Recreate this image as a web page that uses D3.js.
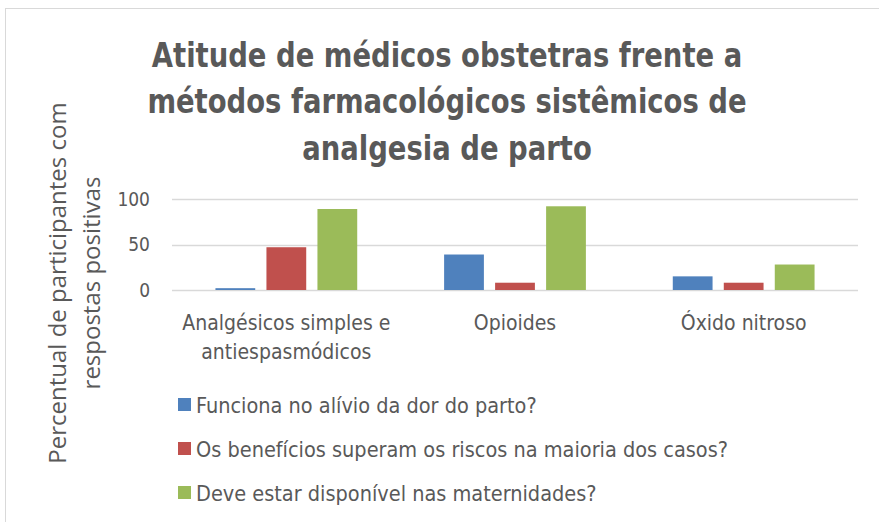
<!DOCTYPE html>
<html>
<head>
<meta charset="utf-8">
<script src="https://cdn.jsdelivr.net/npm/d3@7"></script>
<style>
  body { margin: 0; background: #fff; }
  svg { display: block; }
  .narrow { font-family: "Liberation Sans Narrow", "DejaVu Sans Condensed", "Roboto Condensed", sans-serif; }
</style>
</head>
<body>
<div id="chart"></div>
<script>
// data
const categories = [["Analgésicos simples e", "antiespasmódicos"], ["Opioides"], ["Óxido nitroso"]];
const seriesNames = [
    "Funciona no alívio da dor do parto?",
    "Os benefícios superam os riscos na maioria dos casos?",
    "Deve estar disponível nas maternidades?"
];
const seriesColors = ["#4f81bd", "#c0504d", "#9bbb59"];
const funciona = [2, 39, 15];
const beneficios = [47, 8, 8];
const disponivel = [89, 92, 28];
const yTicks = [0, 50, 100];
const titleLines = ["Atitude de médicos obstetras frente a", "métodos farmacológicos sistêmicos de", "analgesia de parto"];
const yTitleLines = ["Percentual de participantes com", "respostas positivas"];

const width = 879, height = 522;
const margin = {top: 199, right: 21, bottom: 232, left: 172};

const svg = d3.select("#chart").append("svg")
    .attr("width", width)
    .attr("height", height);

// chart frame
svg.append("rect")
    .attr("x", 5.5).attr("y", 8.5)
    .attr("width", 900).attr("height", 600)
    .attr("fill", "none")
    .attr("stroke", "#d9d9d9");

// title (squeezed a bit to look like the narrow original font)
svg.append("g")
    .attr("transform", "translate(447,0) scale(0.925,1)")
    .append("text")
    .attr("class", "narrow")
    .attr("text-anchor", "middle")
    .attr("font-size", 33)
    .attr("font-weight", "bold")
    .attr("fill", "#595959")
    .selectAll("tspan")
    .data(titleLines)
    .enter()
    .append("tspan")
    .attr("x", 0)
    .attr("y", (d, i) => 67 + i * 46.5)
    .text(d => d);

let g = svg.append("g")
    .attr("transform", "translate(" + margin.left + "," + margin.top + ")");

let plotW = width - margin.left - margin.right,
    plotH = height - margin.top - margin.bottom;

let x0 = d3.scaleBand()
    .domain(d3.range(categories.length))
    .range([0, plotW])
    .paddingInner(0.38)
    .paddingOuter(0.19);

let x1 = d3.scaleBand()
    .domain(d3.range(seriesNames.length))
    .range([0, x0.bandwidth()])
    .paddingInner(0.22);

let y = d3.scaleLinear()
    .domain([0, 100])
    .range([plotH, 0]);

// gridlines
g.selectAll(".grid")
    .data(yTicks)
    .enter()
    .append("line")
    .attr("x1", 0)
    .attr("x2", plotW)
    .attr("y1", d => Math.round(y(d)) + 0.5)
    .attr("y2", d => Math.round(y(d)) + 0.5)
    .attr("stroke", "#d9d9d9")
    .attr("stroke-width", 1.5);

// y tick labels
let yAxis = d3.axisLeft(y).tickValues(yTicks).tickSize(0).tickPadding(22);
g.append("g")
    .call(yAxis)
    .call(a => a.select(".domain").remove())
    .selectAll("text")
    .attr("class", "narrow")
    .attr("font-size", 19)
    .attr("fill", "#595959");

// bars
let series = [funciona, beneficios, disponivel];
series.forEach((vals, si) => {
    g.selectAll(".bar" + si)
        .data(vals)
        .enter()
        .append("rect")
        .attr("x", (d, i) => x0(i) + x1(si))
        .attr("y", d => y(d))
        .attr("width", x1.bandwidth())
        .attr("height", d => y(0) - y(d))
        .attr("fill", seriesColors[si]);
});

// category labels
g.selectAll(".cat")
    .data(categories)
    .enter()
    .append("text")
    .attr("class", "narrow")
    .attr("text-anchor", "middle")
    .attr("font-size", 21)
    .attr("fill", "#595959")
    .each(function (d, i) {
        d3.select(this).selectAll("tspan")
            .data(d)
            .enter()
            .append("tspan")
            .attr("x", x0(i) + x0.bandwidth() / 2)
            .attr("y", (t, j) => plotH + 40 + j * 29)
            .text(t => t);
    });

// y axis title
svg.append("text")
    .attr("transform", "translate(66,283) rotate(-90)")
    .attr("text-anchor", "middle")
    .attr("font-family", "'Open Sans', 'DejaVu Sans', sans-serif")
    .attr("font-size", 24)
    .attr("fill", "#595959")
    .selectAll("tspan")
    .data(yTitleLines)
    .enter()
    .append("tspan")
    .attr("x", 0)
    .attr("y", (d, i) => i * 34)
    .text(d => d);

// legend
let legend = svg.selectAll(".legend")
    .data(seriesNames)
    .enter()
    .append("g")
    .attr("transform", (d, i) => "translate(178," + (405 + i * 44) + ")");

legend.append("rect")
    .attr("x", 0).attr("y", -7)
    .attr("width", 13).attr("height", 13)
    .attr("fill", (d, i) => seriesColors[i]);

legend.append("text")
    .attr("class", "narrow")
    .attr("x", 18)
    .attr("y", 8)
    .attr("font-size", 21.5)
    .attr("fill", "#595959")
    .text(d => d);
</script>
</body>
</html>
